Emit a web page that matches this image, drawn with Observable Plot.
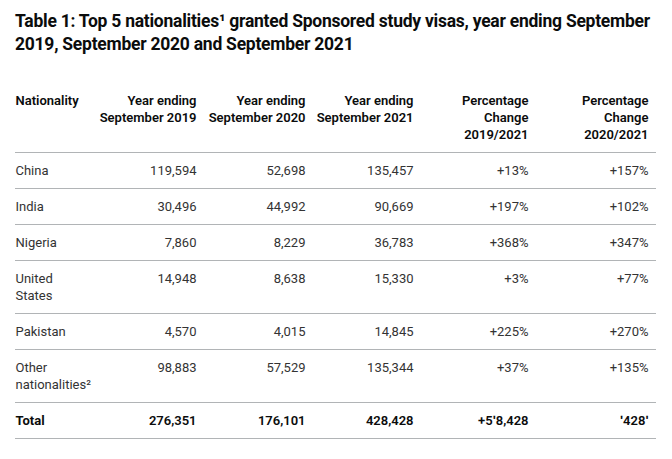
<!DOCTYPE html>
<html>
<head>
<meta charset="utf-8">
<script src="https://cdn.jsdelivr.net/npm/d3@7"></script>
<script src="https://cdn.jsdelivr.net/npm/@observablehq/plot@0.6"></script>
<style>
  html, body { margin: 0; padding: 0; background: #fff; width: 672px; height: 459px; overflow: hidden; }
  #title { box-sizing: border-box; height: 80px; padding: 10px 0 0 15px; font-family: Roboto, sans-serif; font-weight: 700; font-size: 17.5px; line-height: 23px; color: #0b0c0c; letter-spacing: -0.25px; white-space: nowrap; }
  #chart svg { display: block; }
</style>
</head>
<body>
<div id="title">Table 1: Top 5 nationalities¹ granted Sponsored study visas, year ending September<br>2019, September 2020 and September 2021</div>
<div id="chart"></div>
<script>
// ---- data ----
const headers = ["Nationality", "Year ending\nSeptember 2019", "Year ending\nSeptember 2020", "Year ending\nSeptember 2021", "Percentage\nChange\n2019/2021", "Percentage\nChange\n2020/2021"];
const nationalities = ["China", "India", "Nigeria", "United\nStates", "Pakistan", "Other\nnationalities²", "Total"];
const ye2019 = [119594, 30496, 7860, 14948, 4570, 98883, 276351];
const ye2020 = [52698, 44992, 8229, 8638, 4015, 57529, 176101];
const ye2021 = [135457, 90669, 36783, 15330, 14845, 135344, 428428];
const pct1921 = ["+13%", "+197%", "+368%", "+3%", "+225%", "+37%", "+5ʹ8,428"];
const pct2021 = ["+157%", "+102%", "+347%", "+77%", "+270%", "+135%", "ʹ428ʹ"];

// ---- layout ----
const W = 672, H = 379;
const colX = [15, 196, 305, 413, 528, 648];
const ruleX1 = 15, ruleX2 = 656;
const headerTop = 0, headerRule = 72;
const rowBase = 36, lineStep = 17;
const fmt = d3.format(",");

const rowsData = nationalities.map((n, i) => ({
  cells: [n, fmt(ye2019[i]), fmt(ye2020[i]), fmt(ye2021[i]), pct1921[i], pct2021[i]],
  total: i === nationalities.length - 1
}));
let cursorY = headerRule;
const rules = [headerRule];
rowsData.forEach(r => {
  const lines = d3.max(r.cells, c => c.split("\n").length);
  r.rowTop = cursorY;
  cursorY += rowBase + lineStep * (lines - 1);
  rules.push(cursorY);
});

const headCells = headers.map((h, j) => ({x: colX[j], y: headerTop + 12.7, t: h, j}));
const bodyCells = rowsData.flatMap(r => r.cells.map((c, j) => ({x: colX[j], y: r.rowTop + 10.7, t: c, j, total: r.total})));

const common = {x: "x", y: "y", text: "t", lineAnchor: "top", lineHeight: 17 / 13, fontSize: 13, fontFamily: "Roboto, sans-serif"};

const plot = Plot.plot({
  width: W, height: H, margin: 0,
  x: {type: "linear", domain: [0, W], range: [0, W], axis: null},
  y: {type: "linear", domain: [0, H], range: [0, H], axis: null},
  marks: [
    Plot.ruleY(rules, {x1: ruleX1, x2: ruleX2, stroke: "#b1b4b6", strokeWidth: 1.2}),
    Plot.text(headCells.filter(d => d.j === 0), {...common, textAnchor: "start", fontWeight: 600, fill: "#0b0c0c"}),
    Plot.text(headCells.filter(d => d.j > 0), {...common, textAnchor: "end", fontWeight: 600, fill: "#0b0c0c"}),
    Plot.text(bodyCells.filter(d => d.j === 0 && !d.total), {...common, textAnchor: "start", fill: "#333"}),
    Plot.text(bodyCells.filter(d => d.j > 0 && !d.total), {...common, textAnchor: "end", fill: "#333"}),
    Plot.text(bodyCells.filter(d => d.j === 0 && d.total), {...common, textAnchor: "start", fontWeight: 700, fill: "#0b0c0c"}),
    Plot.text(bodyCells.filter(d => d.j > 0 && d.total), {...common, textAnchor: "end", fontWeight: 600, fill: "#0b0c0c"})
  ]
});
document.getElementById("chart").appendChild(plot);
</script>
</body>
</html>
